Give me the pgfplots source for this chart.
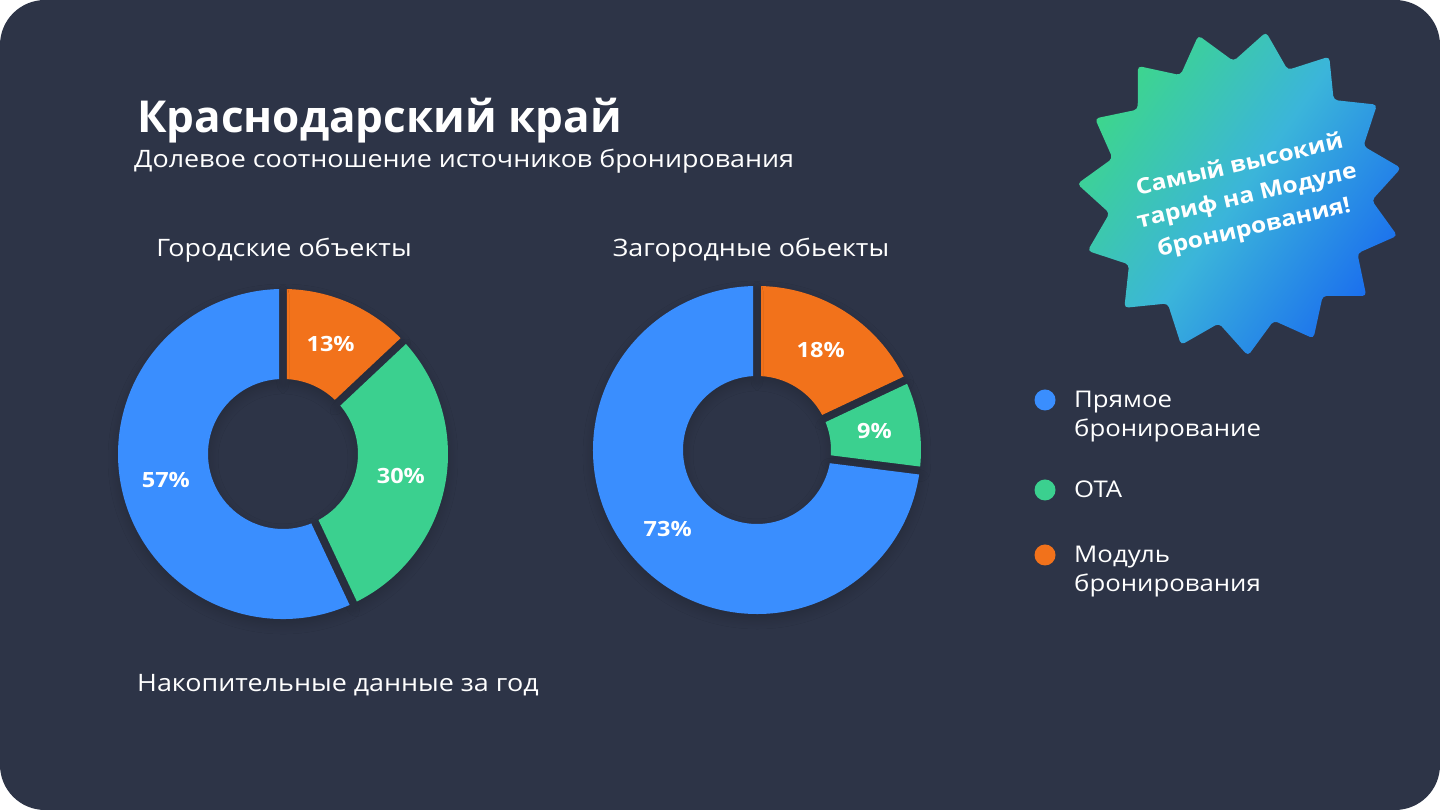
\documentclass[border=0pt]{standalone}
\usepackage{pgfplots}
\pgfplotsset{compat=1.18}
\usepackage{pgfplotstable}
\usetikzlibrary{shadows.blur}
\usepackage{fontspec}
\setmainfont[FakeStretch=1.12]{Open Sans}
\newfontfamily\titlefont{Open Sans}

\definecolor{bg}{HTML}{2D3447}
\definecolor{cBlue}{HTML}{3A8EFE}
\definecolor{cGreen}{HTML}{3BD08F}
\definecolor{cOrange}{HTML}{F2721B}
\definecolor{starG}{HTML}{3DD68C}
\definecolor{starC}{HTML}{3BB5DA}
\definecolor{starB}{HTML}{1B6FEE}

% shares, clockwise from 12 o'clock
\pgfplotstableread{
share col
13 cOrange
30 cGreen
57 cBlue
}\cityTab
\pgfplotstableread{
share col
18 cOrange
9 cGreen
73 cBlue
}\countryTab

\tikzset{pct/.style={font=\bfseries\fontsize{21}{21}\selectfont,text=white},
  slice/.style={blur shadow={shadow xshift=0pt,shadow yshift=-5pt,
    shadow opacity=18,shadow blur radius=10pt,shadow blur steps=8}}}

% #1 table, #2 outer radius, #3 inner radius (pt); half gap 4pt
\newcommand\donutslices[3]{%
  \pgfplotstablegetrowsof{#1}%
  \pgfmathtruncatemacro\nr{\pgfplotsretval-1}%
  \def\acc{90}%
  \pgfplotsforeachungrouped \k in {0,...,\nr}{%
    \pgfplotstablegetelem{\k}{share}\of#1\let\v\pgfplotsretval
    \pgfplotstablegetelem{\k}{col}\of#1\let\c\pgfplotsretval
    \pgfmathsetmacro\s{\acc}%
    \pgfmathsetmacro\e{\acc-3.6*\v}%
    \pgfmathsetmacro\m{(\s+\e)/2}%
    \pgfmathsetmacro\so{\s-asin(4/#2)}%
    \pgfmathsetmacro\eo{\e+asin(4/#2)}%
    \pgfmathsetmacro\si{\s-asin(4/#3)}%
    \pgfmathsetmacro\ei{\e+asin(4/#3)}%
    \pgfmathsetmacro\xo{#2*cos(\so)}\pgfmathsetmacro\yo{#2*sin(\so)}%
    \pgfmathsetmacro\xi{#3*cos(\ei)}\pgfmathsetmacro\yi{#3*sin(\ei)}%
    \pgfmathsetmacro\xm{(#2+#3)/2*cos(\m)}\pgfmathsetmacro\ym{(#2+#3)/2*sin(\m)}%
    \edef\tmp{\noexpand\fill[\c,slice] (axis cs:\xo,\yo)
      arc[start angle=\so, end angle=\eo, radius=#2pt]
      -- (axis cs:\xi,\yi)
      arc[start angle=\ei, end angle=\si, radius=#3pt] -- cycle;
      \noexpand\node[pct] at (axis cs:\xm,\ym) {\v\noexpand\%};}%
    \tmp
    \global\let\acc\e
  }%
}

\pgfplotsset{donut/.style={x=1pt,y=1pt,disabledatascaling,hide axis,
  xmin=-170,xmax=170,ymin=-170,ymax=170,anchor=origin,clip=false}}

\begin{document}
\begin{tikzpicture}[x=1pt,y=1pt]
\useasboundingbox (0,0) rectangle (1440,810);
\fill[white] (0,0) rectangle (1440,810);
\fill[bg,rounded corners=45pt] (0,0) rectangle (1440,810);

% titles
\node[anchor=base west,inner sep=0,text=white,font=\titlefont\bfseries\fontsize{44}{50}\selectfont] at (137,677) {Краснодарский край};
\node[anchor=base west,inner sep=0,text=white,font=\fontsize{24}{28}\selectfont] at (134,642) {Долевое соотношение источников бронирования};
\node[anchor=base,inner sep=0,text=white,font=\fontsize{24}{28}\selectfont] at (284,553) {Городские объекты};
\node[anchor=base,inner sep=0,text=white,font=\fontsize{24}{28}\selectfont] at (751,553) {Загородные обьекты};
\node[anchor=base west,inner sep=0,text=white,font=\fontsize{24}{28}\selectfont] at (137,118) {Накопительные данные за год};

% donuts
\begin{axis}[donut,at={(283,356)}]
  \donutslices{\cityTab}{165}{75}
\end{axis}
\begin{axis}[donut,at={(757,360)}]
  \donutslices{\countryTab}{164}{74}
\end{axis}

% legend
\fill[cBlue] (1045,410) circle (10.5);
\fill[cGreen] (1045,320) circle (10.5);
\fill[cOrange] (1045,255) circle (10.5);
\begin{scope}[every node/.style={anchor=base west,inner sep=0,text=white,font=\fontsize{23}{29}\selectfont}]
\node at (1074,402) {Прямое};
\node at (1074,373) {бронирование};
\node at (1074,312) {ОТА};
\node at (1074,247) {Модуль};
\node at (1074,218) {бронирования};
\end{scope}

% badge
\shade[top color=starG,bottom color=starB,middle color=starC,shading angle=55,rounded corners=4pt]
  plot[samples at={0,...,29},variable=\k]
  ({1240+(163-31*mod(\k,2))*cos(8.8+12*\k)},{617+(163-31*mod(\k,2))*sin(8.8+12*\k)}) -- cycle;
\node[rotate=13,align=center,text=white,font=\bfseries\fontsize{22}{32}\selectfont] at (1247,613)
  {Самый высокий\\тариф на Модуле\\бронирования!};
\end{tikzpicture}
\end{document}
